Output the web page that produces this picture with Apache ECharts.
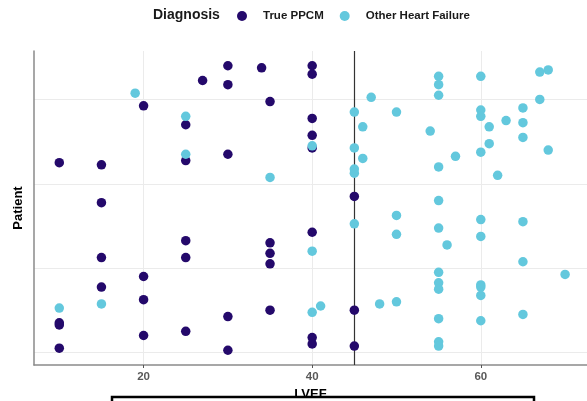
<!DOCTYPE html>
<html>
<head>
<meta charset="utf-8">
<script src="https://cdn.jsdelivr.net/npm/echarts@6/dist/echarts.min.js"></script>
<style>
  html, body { margin: 0; padding: 0; background: #fff; }
  #chart { width: 587px; height: 401px; }
</style>
</head>
<body>
<div id="chart"></div>
<script>
// True PPCM patients
const ppcmLvef = [20, 27, 25, 10, 15, 25, 30, 30, 34, 40, 40, 35, 40, 40, 40, 30, 45, 15, 25, 25,
  15, 20, 15, 20, 10, 10, 20, 25, 10, 40, 35, 35, 35, 30, 35, 45, 40, 40, 45, 30];
const ppcmPatient = [117, 129, 108, 90, 89, 91, 136, 127, 135, 136, 132, 119, 111, 103, 97, 94, 74, 71, 53, 45,
  45, 36, 31, 25, 14, 13, 8, 10, 2, 57, 52, 47, 42, 17, 20, 20, 7, 4, 3, 1];

// Other heart failure patients
const otherLvef = [19, 25, 25, 40, 35, 47, 45, 46, 45, 46, 45, 45, 50, 55, 55, 55, 60, 67, 68, 67,
  60, 65, 60, 63, 65, 61, 54, 65, 61, 60, 68, 57, 55, 62, 55, 50, 45, 60, 65, 55,
  50, 60, 56, 65, 55, 70, 55, 55, 60, 60, 60, 48, 50, 55, 60, 65, 55, 55, 40, 40,
  41, 15, 10];
const otherPatient = [123, 112, 94, 98, 83, 121, 114, 107, 97, 92, 87, 85, 114, 131, 127, 122, 131, 133, 134, 120,
  115, 116, 112, 110, 109, 107, 105, 102, 99, 95, 96, 93, 88, 84, 72, 65, 61, 63, 62, 59,
  56, 55, 51, 43, 38, 37, 33, 30, 32, 31, 27, 23, 24, 16, 15, 18, 5, 3, 48, 19,
  22, 23, 21];

const xTicks = [20, 40, 60];
const yBreaks = [0, 40, 80, 120];
const cutoff = 45;

function pairs(xs, ys) {
  let out = [];
  for (let i = 0; i < xs.length; i++) {
    out.push([xs[i], ys[i]]);
  }
  return out;
}

const navy = '#24096b';
const cyan = '#63c8dd';

let chart = echarts.init(document.getElementById('chart'), null, {renderer: 'canvas'});
let option = {
  animation: false,
  title: {
    text: 'Diagnosis',
    left: 153,
    top: 8,
    padding: 0,
    textStyle: {fontFamily: 'Liberation Sans', fontSize: 14, fontWeight: 'bold', color: '#1a1a1a'}
  },
  legend: {
    left: 237,
    top: 10,
    padding: 0,
    itemWidth: 10,
    itemHeight: 10,
    itemGap: 16,
    icon: 'circle',
    data: ['True PPCM', 'Other Heart Failure'],
    textStyle: {fontFamily: 'Liberation Sans', fontSize: 11.5, fontWeight: 'bold', color: '#1a1a1a',
      padding: [0, 0, 0, 11]}
  },
  grid: {left: 34, right: 0, top: 51, bottom: 36, containLabel: false, outerBoundsMode: 'none'},
  xAxis: {
    type: 'value',
    min: 7,
    max: 72.6,
    name: 'LVEF',
    nameLocation: 'middle',
    nameGap: 21,
    nameTextStyle: {fontFamily: 'Liberation Sans', fontSize: 13, fontWeight: 'bold', color: '#000'},
    axisLine: {show: true, onZero: false, lineStyle: {color: '#8a8a8a', width: 1.5}},
    axisTick: {show: true, length: 3, customValues: xTicks, lineStyle: {color: '#555', width: 1}},
    axisLabel: {customValues: xTicks, margin: 6, fontFamily: 'Liberation Sans', fontSize: 11.5,
      fontWeight: 'bold', color: '#595959'},
    splitLine: {show: true, lineStyle: {color: '#ebebeb', width: 1}}
  },
  yAxis: {
    type: 'value',
    min: -6,
    max: 143,
    name: 'Patient',
    nameLocation: 'middle',
    nameGap: 9,
    nameRotate: 90,
    nameTextStyle: {fontFamily: 'Liberation Sans', fontSize: 13, fontWeight: 'bold', color: '#000'},
    axisLine: {show: true, onZero: false, lineStyle: {color: '#8a8a8a', width: 1.5}},
    axisTick: {show: false, customValues: yBreaks},
    axisLabel: {show: false, customValues: yBreaks},
    splitLine: {show: true, lineStyle: {color: '#ebebeb', width: 1}}
  },
  series: [
    {
      name: 'True PPCM',
      type: 'scatter',
      symbolSize: 9.5,
      z: 3,
      itemStyle: {color: navy, opacity: 1},
      data: pairs(ppcmLvef, ppcmPatient),
      markLine: {
        silent: true,
        z: 1,
        symbol: ['none', 'none'],
        label: {show: false},
        lineStyle: {color: '#333', width: 1.2, type: 'solid'},
        data: [{xAxis: cutoff}]
      }
    },
    {
      name: 'Other Heart Failure',
      type: 'scatter',
      symbolSize: 9.5,
      z: 4,
      itemStyle: {color: cyan, opacity: 1},
      data: pairs(otherLvef, otherPatient)
    }
  ],
  graphic: [
    {
      type: 'rect',
      z: 100,
      shape: {x: 112, y: 397, width: 422, height: 12},
      style: {fill: '#fff', stroke: '#000', lineWidth: 2.5}
    }
  ]
};
chart.setOption(option);
</script>
</body>
</html>
